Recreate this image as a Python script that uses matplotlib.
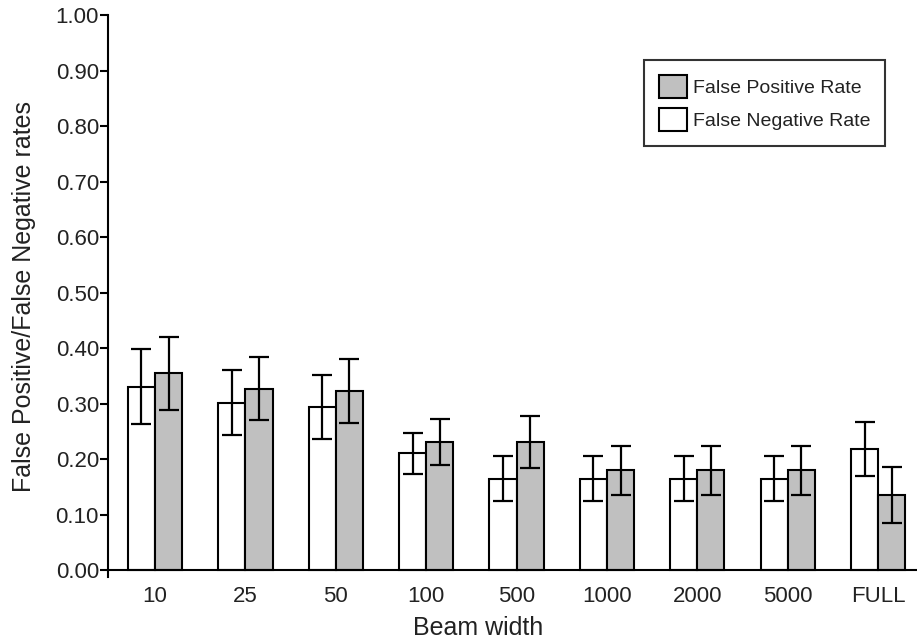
import matplotlib
matplotlib.use("Agg")
import matplotlib.pyplot as plt
import numpy as np
from matplotlib.patches import Patch

plt.rcParams['font.family'] = ['Liberation Sans', 'DejaVu Sans']

categories = ["10", "25", "50", "100", "500", "1000", "2000", "5000", "FULL"]
fn_rate = [0.331, 0.302, 0.294, 0.211, 0.165, 0.165, 0.165, 0.165, 0.218]
fn_err = [0.067, 0.058, 0.058, 0.037, 0.040, 0.040, 0.040, 0.040, 0.049]
fp_rate = [0.355, 0.327, 0.323, 0.231, 0.231, 0.180, 0.180, 0.180, 0.136]
fp_err = [0.066, 0.057, 0.058, 0.042, 0.047, 0.044, 0.044, 0.044, 0.050]

fig = plt.figure(figsize=(9.17, 6.43), dpi=100)
ax = fig.add_axes([108/917, 1-577/643, 1-108/917, (577-15)/643])

x = np.arange(len(categories))
w = 0.30
ekw = dict(elinewidth=1.6, capthick=1.6, ecolor='black')
ax.bar(x - w/2, fn_rate, w, color='white', edgecolor='black', linewidth=1.5,
       yerr=fn_err, capsize=7, error_kw=ekw, zorder=2)
ax.bar(x + w/2, fp_rate, w, color='#c0c0c0', edgecolor='black', linewidth=1.5,
       yerr=fp_err, capsize=7, error_kw=ekw, zorder=2)

ax.set_xlim(-0.52, 8.43)
ax.set_ylim(-0.012, 1.0)
ax.spines['bottom'].set_position(('data', 0))
ax.spines['top'].set_visible(False)
ax.spines['right'].set_visible(False)
for s in ('left', 'bottom'):
    ax.spines[s].set_linewidth(1.5)

yt = np.arange(0, 1.01, 0.1)
ax.set_yticks(yt)
ax.set_yticklabels([f"{v:.2f}" for v in yt], fontsize=16, color='#222222')
ax.tick_params(axis='y', direction='out', length=6, width=1.5, pad=0.5)
ax.set_xticks(x)
ax.set_xticklabels(categories, fontsize=16, color='#222222')
ax.tick_params(axis='x', length=0, pad=11)

ax.set_xlabel("Beam width", fontsize=18, labelpad=8, color='#222222')
ax.xaxis.set_label_coords(0.457, -0.07)
ax.set_ylabel("False Positive/False Negative rates", fontsize=18, labelpad=14,
              color='#222222')

handles = [Patch(facecolor='#c0c0c0', edgecolor='black', linewidth=1.5),
           Patch(facecolor='white', edgecolor='black', linewidth=1.5)]
leg = fig.legend(handles, ["False Positive Rate", "False Negative Rate"],
                 loc='upper right', bbox_to_anchor=(885/917, 1-60/643),
                 fontsize=14, frameon=True, fancybox=False, edgecolor='black',
                 handlelength=1.45, handleheight=1.45, handletextpad=0.3,
                 borderpad=0.75, labelspacing=0.55, borderaxespad=0)
leg.get_frame().set_linewidth(1.5)
for t in leg.get_texts():
    t.set_color('#222222')

fig.savefig("out.png", dpi=100)
